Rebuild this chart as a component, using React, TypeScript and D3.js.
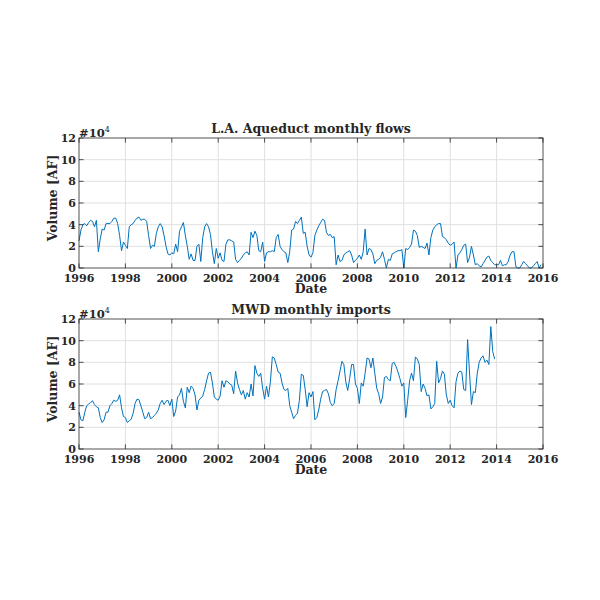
import React from "react";
import * as d3 from "d3";

// ---------- data (values in units of 10^4 acre-feet) ----------
const laaYears = [1996, 1997, 1998, 1999, 2000, 2001, 2002, 2003, 2004, 2005, 2006, 2007, 2008, 2009, 2010, 2011, 2012, 2013, 2014, 2015];
const laa1996 = [2.5, 3.5, 4.0, 4.1, 3.9, 4.2, 4.4, 4.3, 3.8, 4.4, 1.5, 2.7];
const laa1997 = [3.6, 3.5, 4.1, 4.1, 4.1, 4.3, 4.6, 4.6, 4.1, 3.0, 1.6, 2.4];
const laa1998 = [2.1, 1.8, 3.8, 4.0, 4.1, 4.4, 4.6, 4.7, 4.4, 4.5, 4.5, 4.3];
const laa1999 = [3.0, 1.8, 2.1, 2.0, 3.2, 3.8, 4.1, 3.8, 3.0, 2.0, 1.3, 1.2];
const laa2000 = [1.4, 1.3, 2.2, 1.5, 3.4, 3.8, 4.2, 3.0, 2.0, 0.8, 1.3, 0.7];
const laa2001 = [0.7, 2.0, 2.2, 0.6, 2.8, 3.8, 4.1, 3.8, 3.1, 1.5, 0.4, 1.8];
const laa2002 = [0.9, 1.4, 0.7, 0.6, 2.2, 2.6, 2.6, 2.5, 2.4, 0.8, 0.5, 0.7];
const laa2003 = [0.9, 1.2, 1.4, 1.5, 1.2, 3.3, 2.8, 3.4, 3.0, 1.6, 1.5, 2.4];
const laa2004 = [0.6, 1.4, 1.5, 1.5, 1.6, 1.5, 2.8, 3.1, 2.0, 1.7, 1.5, 1.4];
const laa2005 = [0.5, 1.5, 3.5, 3.6, 4.3, 4.1, 4.4, 4.7, 3.2, 3.3, 2.0, 1.2];
const laa2006 = [1.0, 1.4, 3.0, 3.5, 3.9, 4.2, 4.5, 4.4, 3.3, 3.0, 3.1, 2.8];
const laa2007 = [2.9, 0.3, 1.2, 0.6, 0.7, 1.2, 1.4, 1.5, 1.6, 1.2, 0.5, 0.7];
const laa2008 = [0.9, 1.2, 0.8, 1.5, 3.6, 1.2, 1.8, 1.7, 1.3, 0.4, 0.7, 0.8];
const laa2009 = [1.0, 1.5, 0.8, 0.0, 0.8, 0.7, 1.3, 1.4, 1.5, 1.6, 1.6, 1.7];
const laa2010 = [0.0, 1.8, 1.7, 1.9, 2.2, 3.5, 3.4, 3.0, 1.9, 2.0, 1.9, 1.8];
const laa2011 = [2.3, 1.2, 2.8, 3.5, 3.8, 4.0, 4.1, 4.1, 2.9, 2.8, 2.6, 2.3];
const laa2012 = [2.1, 2.2, 2.4, 0.0, 1.2, 1.4, 1.7, 2.1, 2.2, 0.5, 1.0, 2.0];
const laa2013 = [1.2, 0.3, 0.4, 0.2, 0.1, 0.4, 0.7, 1.0, 1.1, 0.7, 0.5, 0.3];
const laa2014 = [0.3, 0.3, 0.7, 0.2, 0.3, 0.3, 0.6, 1.2, 1.5, 1.5, 0.1, 0.0];
const laa2015 = [0.0, 0.3, 0.6, 0.4, 0.2, 0.0, 0.0, 0.2, 0.4, 0.6, 0.0, 0.3];
const laaByYear = [laa1996, laa1997, laa1998, laa1999, laa2000, laa2001, laa2002, laa2003, laa2004, laa2005, laa2006, laa2007, laa2008, laa2009, laa2010, laa2011, laa2012, laa2013, laa2014, laa2015];

const mwdYears = [1996, 1997, 1998, 1999, 2000, 2001, 2002, 2003, 2004, 2005, 2006, 2007, 2008, 2009, 2010, 2011, 2012, 2013];
const mwd1996 = [3.4, 2.7, 2.6, 3.4, 4.0, 4.15, 4.3, 4.45, 4.1, 3.9, 3.8, 2.9];
const mwd1997 = [2.45, 2.7, 3.4, 3.4, 4.0, 4.2, 4.5, 4.4, 4.5, 5.0, 3.8, 3.0];
const mwd1998 = [2.9, 2.45, 2.6, 2.75, 3.3, 4.2, 4.6, 4.55, 4.0, 3.4, 2.8, 2.9];
const mwd1999 = [3.4, 2.8, 2.9, 3.1, 3.3, 3.6, 4.2, 4.5, 4.1, 4.4, 4.5, 4.0];
const mwd2000 = [4.6, 3.0, 3.5, 4.8, 5.0, 5.6, 4.4, 3.8, 5.7, 5.2, 5.8, 5.6];
const mwd2001 = [5.0, 3.6, 4.5, 4.7, 4.9, 5.5, 6.3, 7.0, 7.1, 6.1, 4.8, 4.6];
const mwd2002 = [4.5, 4.9, 6.3, 5.7, 6.3, 6.2, 6.0, 5.9, 5.1, 7.2, 6.1, 5.5];
const mwd2003 = [5.0, 5.4, 4.6, 5.2, 4.8, 6.0, 4.9, 7.7, 7.0, 6.7, 7.0, 5.6];
const mwd2004 = [4.6, 5.8, 4.8, 6.2, 8.5, 8.4, 7.8, 7.1, 7.0, 6.1, 5.5, 5.4];
const mwd2005 = [5.6, 4.0, 3.4, 2.8, 3.1, 3.3, 4.5, 6.9, 6.8, 5.5, 3.9, 5.2];
const mwd2006 = [4.8, 5.3, 2.7, 2.9, 3.6, 4.6, 5.3, 5.4, 5.5, 5.1, 4.3, 4.0];
const mwd2007 = [4.2, 5.5, 6.3, 7.2, 8.1, 7.8, 6.2, 5.4, 6.5, 7.8, 7.8, 6.0];
const mwd2008 = [5.6, 4.2, 6.1, 5.8, 7.0, 8.4, 8.3, 7.5, 8.4, 7.0, 5.6, 5.1];
const mwd2009 = [4.2, 4.8, 6.6, 6.7, 6.4, 6.3, 7.9, 8.0, 7.6, 7.1, 6.5, 5.8];
const mwd2010 = [6.1, 2.9, 4.5, 6.3, 7.0, 6.3, 8.5, 8.3, 7.8, 5.3, 6.0, 5.6];
const mwd2011 = [4.9, 5.0, 3.7, 3.9, 4.2, 8.1, 6.1, 6.5, 7.2, 6.9, 5.0, 4.2];
const mwd2012 = [4.5, 4.0, 3.8, 6.2, 7.0, 7.2, 7.1, 5.5, 5.4, 10.1, 7.0, 4.1];
const mwd2013 = [5.3, 5.2, 7.0, 8.0, 8.4, 8.6, 8.0, 8.2, 7.8, 11.3, 9.0, 8.3];
const mwdByYear = [mwd1996, mwd1997, mwd1998, mwd1999, mwd2000, mwd2001, mwd2002, mwd2003, mwd2004, mwd2005, mwd2006, mwd2007, mwd2008, mwd2009, mwd2010, mwd2011, mwd2012, mwd2013];

const xTicks = [1996, 1998, 2000, 2002, 2004, 2006, 2008, 2010, 2012, 2014, 2016];
const yTicks = [0, 2, 4, 6, 8, 10, 12];
const titles = ["L.A. Aqueduct monthly flows", "MWD monthly imports"];
const xLabel = "Date";
const yLabel = "Volume [AF]";

type Pt = { t: number; v: number };
function flatten(years: number[], byYear: number[][]): Pt[] {
  const out: Pt[] = [];
  years.forEach((y, i) => byYear[i].forEach((v, m) => out.push({ t: y + m / 12, v })));
  return out;
}
const laaSeries = flatten(laaYears, laaByYear);
const mwdSeries = flatten(mwdYears, mwdByYear);

const FONT = "'DejaVu Serif', serif";
const AX = "#262626";
const GRID = "#e0e0e0";
const LINE = "#0072BD";

const left = 79;
const right = 543;

function Panel({ top, bottom, title, data }: { top: number; bottom: number; title: string; data: Pt[] }) {
  const x = d3.scaleLinear().domain([1996, 2016]).range([left, right]);
  const y = d3.scaleLinear().domain([0, 12]).range([bottom, top]);
  const line = d3.line<Pt>().x((d) => x(d.t)).y((d) => y(d.v));
  const tl = 4.6;
  const mid = (left + right) / 2;
  return (
    <g fontFamily={FONT} fontWeight="bold" fontSize={11} fill={AX}>
      {xTicks.slice(1, -1).map((t) => (
        <line key={"gx" + t} x1={x(t)} x2={x(t)} y1={top} y2={bottom} stroke={GRID} strokeWidth={1} />
      ))}
      {yTicks.slice(1, -1).map((t) => (
        <line key={"gy" + t} x1={left} x2={right} y1={y(t)} y2={y(t)} stroke={GRID} strokeWidth={1} />
      ))}
      <path d={line(data) || ""} fill="none" stroke={LINE} strokeWidth={1} />
      <rect x={left} y={top} width={right - left} height={bottom - top} fill="none" stroke={AX} strokeWidth={0.8} />
      {xTicks.map((t) => (
        <g key={"tx" + t}>
          <line x1={x(t)} x2={x(t)} y1={bottom} y2={bottom - tl} stroke={AX} strokeWidth={0.8} />
          <line x1={x(t)} x2={x(t)} y1={top} y2={top + tl} stroke={AX} strokeWidth={0.8} />
          <text x={x(t)} y={bottom + 13.5} textAnchor="middle">{t}</text>
        </g>
      ))}
      {yTicks.map((t) => (
        <g key={"ty" + t}>
          <line x1={left} x2={left + tl} y1={y(t)} y2={y(t)} stroke={AX} strokeWidth={0.8} />
          <line x1={right} x2={right - tl} y1={y(t)} y2={y(t)} stroke={AX} strokeWidth={0.8} />
          <text x={left - 3} y={y(t) + 4} textAnchor="end">{t}</text>
        </g>
      ))}
      <text x={left} y={top - 1.5} fontSize={11.5}>
        #10<tspan fontSize={8} fontWeight="normal" dy={-5}>4</tspan>
      </text>
      <text x={mid} y={top - 5} textAnchor="middle" fontSize={12.5}>{title}</text>
      <text x={mid} y={bottom + 25} textAnchor="middle" fontSize={12.5}>{xLabel}</text>
      <text transform={`translate(57,${(top + bottom) / 2 - 5}) rotate(-90)`} textAnchor="middle" fontSize={12.5}>{yLabel}</text>
    </g>
  );
}

export default function App() {
  return (
    <svg width={600} height={600} style={{ position: "absolute", left: 0, top: 0, background: "#fff" }}>
      <rect width={600} height={600} fill="#fff" />
      <Panel top={138} bottom={268} title={titles[0]} data={laaSeries} />
      <Panel top={319} bottom={449} title={titles[1]} data={mwdSeries} />
    </svg>
  );
}
